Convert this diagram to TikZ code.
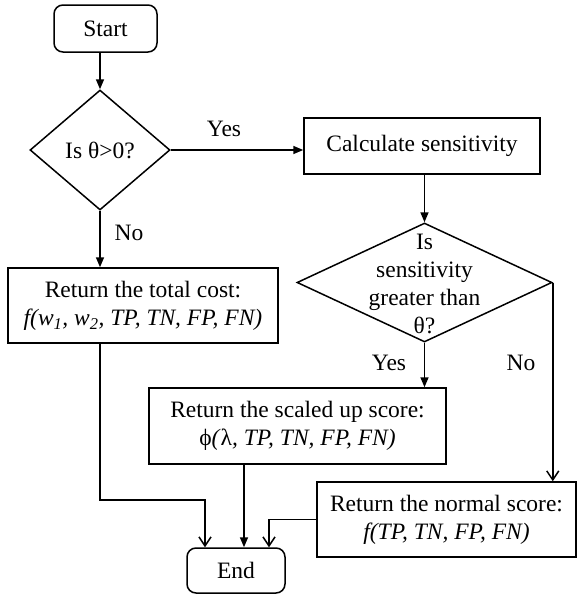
\documentclass[tikz,border=0pt]{standalone}
\usepackage{fontspec}
\setmainfont{Liberation Serif}
\usetikzlibrary{arrows.meta,shapes.geometric}
\newcommand\fsz{\fontsize{23.5}{28.3}\selectfont}
\begin{document}
\begin{tikzpicture}[x=1pt,y=-1pt, line width=1.5pt,
  every node/.style={font=\fsz},
  box/.style={draw, line width=1.5pt, inner sep=0pt, align=center},
  term/.style={box, rounded corners=9pt},
  decision/.style={draw, diamond, line width=1.5pt, inner sep=0pt, aspect=1},
  fa/.style={-{Triangle[length=10pt,width=8pt]}},
  oa/.style={-{Straight Barb[length=9pt,width=12pt]}},
  lbl/.style={inner sep=0pt}]
\useasboundingbox (0,0) rectangle (577,600);

% nodes
\node[term, minimum width=103pt, minimum height=47pt] (start) at (105.5,28.5) {Start};
\node[decision, minimum width=140pt, minimum height=120pt] (d1) at (100,150) {Is θ>0?};
\node[box, minimum width=236pt, minimum height=56pt] (calc) at (422,146) {Calculate sensitivity};
\node[decision, minimum width=255pt, minimum height=119pt] (d2) at (424.5,282.5) {};
\node[align=center, inner sep=0pt] (d2t) at (424.5,284) {Is\\sensitivity\\greater than\\θ?};
\node[box, minimum width=270pt, minimum height=75pt] (total) at (143,305.5)
  {Return the total cost:\\\textit{f(w\textsubscript{1}, w\textsubscript{2}, TP, TN, FP, FN)}};
\node[box, minimum width=297pt, minimum height=76pt] (scaled) at (297.5,426)
  {Return the scaled up score:\\ϕ\textit{(}λ\textit{, TP, TN, FP, FN)}};
\node[box, minimum width=259pt, minimum height=75pt] (normal) at (446.5,519.5)
  {Return the normal score:\\\textit{f(TP, TN, FP, FN)}};
\node[term, minimum width=98pt, minimum height=45pt] (End) at (236,570.5) {End};

% labels
\node[lbl] (yes1) at (224,129) {Yes};
\node[lbl] (no1) at (129,233) {No};
\node[lbl] (yes2) at (389,363) {Yes};
\node[lbl] (no2) at (521,363) {No};

% connectors
\draw[fa] (d1.north |- start.south) -- (d1.north);
\draw[fa] (d1.east) -- (d1.east -| calc.west);
\draw[fa] (d1.south) -- (d1.south |- total.north);
\draw[fa] (d2.north |- calc.south) -- (d2.north);
\draw[fa] (d2.south) -- (d2.south |- scaled.north);
\draw[oa] (d2.east) -- (d2.east |- normal.north);
\draw[oa] (d1.south |- total.south) -- (d1.south |- 0,500) -| ([xshift=-31pt]End.north);
\draw[fa] ([xshift=8pt]End.north |- scaled.south) -- ([xshift=8pt]End.north);
\draw[oa] (normal.west) -| ([xshift=33pt]End.north);
\end{tikzpicture}
\end{document}
